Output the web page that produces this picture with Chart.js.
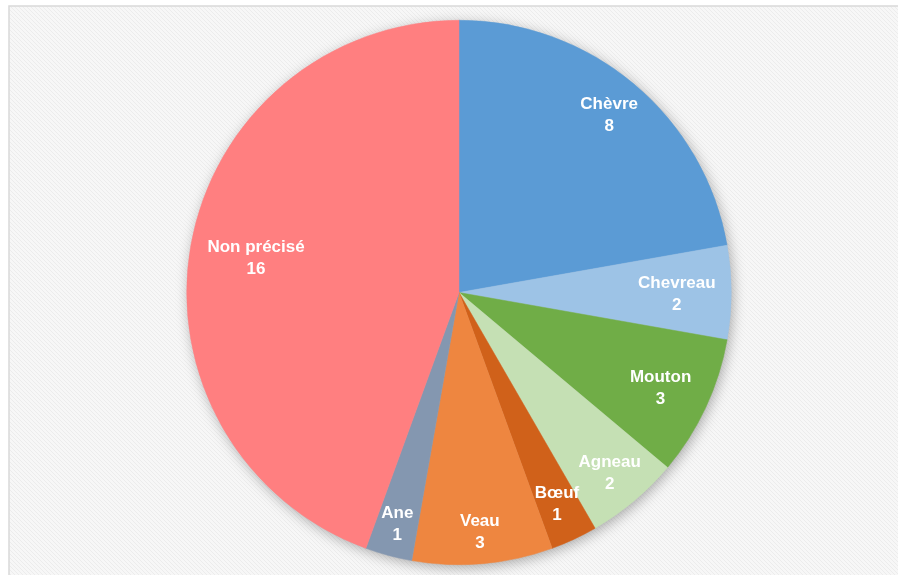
<!DOCTYPE html>
<html>
<head>
<meta charset="utf-8">
<script src="https://cdn.jsdelivr.net/npm/chart.js@4/dist/chart.umd.min.js"></script>
<style>
html,body{margin:0;padding:0;background:#fff;}
#wrap{width:898px;height:575px;position:relative;}
</style>
</head>
<body>
<div id="wrap"><canvas id="c" width="898" height="575"></canvas></div>
<script>
const categories = ["Chèvre", "Chevreau", "Mouton", "Agneau", "Bœuf", "Veau", "Ane", "Non précisé"];
const counts = [8, 2, 3, 2, 1, 3, 1, 16];
const sliceColors = ["#5B9BD5", "#9DC3E6", "#70AD47", "#C5E0B4", "#D0611A", "#EE8640", "#8497B0", "#FF7F80"];

const bgPlugin = {
  id: 'bgPlugin',
  beforeDraw(chart) {
    const ctx = chart.ctx;
    ctx.save();
    ctx.fillStyle = '#ffffff';
    ctx.fillRect(0, 0, chart.width, chart.height);
    const p = document.createElement('canvas');
    p.width = 4; p.height = 4;
    const pc = p.getContext('2d');
    pc.fillStyle = '#f7f7f7';
    pc.fillRect(0, 0, 4, 4);
    pc.fillStyle = '#ececec';
    for (let i = 0; i < 4; i++) pc.fillRect(i, i, 1, 1);
    ctx.fillStyle = ctx.createPattern(p, 'repeat');
    ctx.fillRect(9, 6, chart.width - 9, chart.height - 6);
    ctx.strokeStyle = '#d9d9d9';
    ctx.lineWidth = 1.5;
    ctx.beginPath();
    ctx.moveTo(9, chart.height);
    ctx.lineTo(9, 6);
    ctx.lineTo(chart.width, 6);
    ctx.stroke();
    ctx.restore();
  },
  beforeDatasetsDraw(chart) {
    const arc = chart.getDatasetMeta(0).data[0];
    if (!arc) return;
    const ctx = chart.ctx;
    ctx.save();
    ctx.shadowColor = 'rgba(0,0,0,0.35)';
    ctx.shadowBlur = 14;
    ctx.shadowOffsetX = 2;
    ctx.shadowOffsetY = 3;
    ctx.fillStyle = '#cccccc';
    ctx.beginPath();
    ctx.arc(arc.x, arc.y, arc.outerRadius - 1, 0, Math.PI * 2);
    ctx.fill();
    ctx.restore();
  }
};

const labelPlugin = {
  id: 'sliceLabels',
  afterDatasetsDraw(chart, args, opts) {
    const ctx = chart.ctx;
    const meta = chart.getDatasetMeta(0);
    ctx.save();
    ctx.fillStyle = '#ffffff';
    ctx.font = 'bold 17px "Liberation Sans", Arial, sans-serif';
    ctx.textAlign = 'center';
    ctx.textBaseline = 'middle';
    meta.data.forEach((a, i) => {
      const mid = (a.startAngle + a.endAngle) / 2;
      const r = a.outerRadius * opts.radii[i];
      const x = a.x + Math.cos(mid) * r;
      const y = a.y + Math.sin(mid) * r + 1.5;
      ctx.fillText(categories[i], x, y - 11);
      ctx.fillText(String(counts[i]), x, y + 11);
    });
    ctx.restore();
  }
};

new Chart(document.getElementById('c'), {
  type: 'pie',
  data: {
    labels: categories,
    datasets: [{
      data: counts,
      backgroundColor: sliceColors,
      borderColor: sliceColors,
      borderWidth: 0.5
    }]
  },
  options: {
    responsive: false,
    animation: false,
    layout: { padding: { top: 20, bottom: 10, left: 20, right: 0 } },
    plugins: {
      legend: { display: false },
      tooltip: { enabled: false },
      sliceLabels: { radii: [0.858, 0.80, 0.817, 0.861, 0.852, 0.879, 0.875, 0.757] }
    }
  },
  plugins: [bgPlugin, labelPlugin]
});
</script>
</body>
</html>
